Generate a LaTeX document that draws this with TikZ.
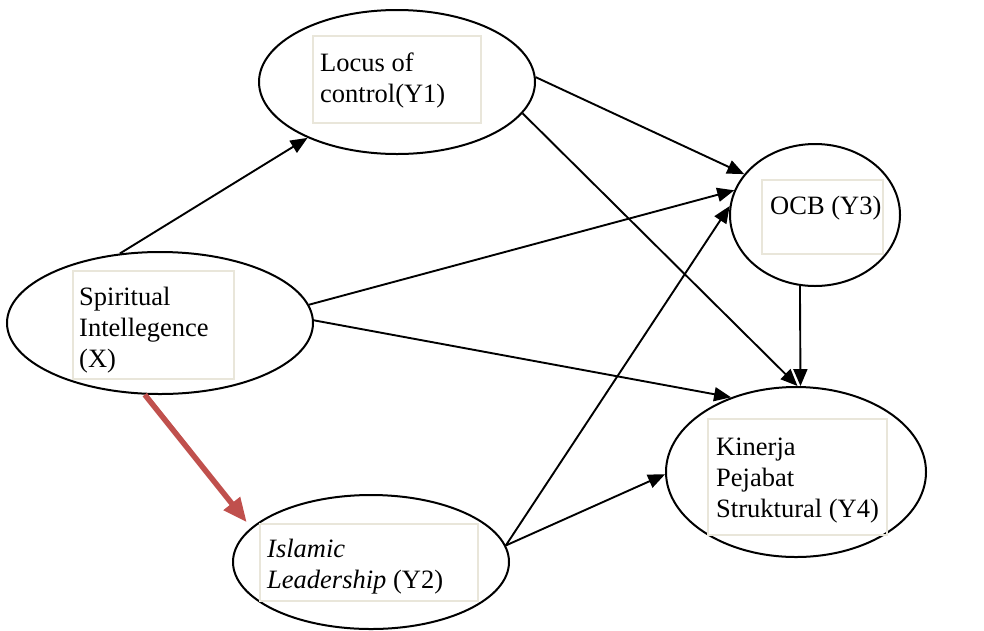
\documentclass[tikz,border=0pt]{standalone}
\usepackage{fontspec}
\setmainfont{Liberation Serif}
\usetikzlibrary{shapes.geometric,arrows.meta}
\definecolor{boxline}{HTML}{E9E6DA}
\definecolor{accentred}{HTML}{C0504D}
\begin{document}
\begin{tikzpicture}[x=1pt,y=-1pt,
  construct/.style={ellipse, draw=black, line width=2pt, inner sep=0pt},
  tbox/.style={draw=boxline, line width=1.5pt, inner sep=0pt, anchor=north west},
  ttext/.style={font=\fontsize{26.5}{31}\selectfont, align=left, inner sep=0pt, anchor=base west},
  link/.style={line width=1.9pt, -{Triangle[length=17pt,width=14pt]}},
  keylink/.style={draw=accentred, line width=5.5pt, -{Triangle[length=24pt,width=20pt]}}
]
\useasboundingbox (0,0) rectangle (984,630);

% constructs
\node[construct, minimum width=276pt, minimum height=144pt] (Y1) at (397,82) {};
\node[construct, minimum width=170pt, minimum height=142pt] (Y3) at (815,215) {};
\node[construct, minimum width=306pt, minimum height=142pt] (X)  at (160,323) {};
\node[construct, minimum width=276pt, minimum height=134pt] (Y2) at (371,562) {};
\node[construct, minimum width=260pt, minimum height=170pt] (Y4) at (796,472) {};

% text frames
\node[tbox, minimum width=168pt, minimum height=87pt]  (Y1box) at (312,35)  {};
\node[tbox, minimum width=121pt, minimum height=74pt]  (Y3box) at (761,179) {};
\node[tbox, minimum width=161pt, minimum height=108pt] (Xbox)  at (72,270)  {};
\node[tbox, minimum width=218pt, minimum height=77pt]  (Y2box) at (259,523) {};
\node[tbox, minimum width=179pt, minimum height=116pt] (Y4box) at (707,418) {};

% labels (anchored at the baseline of their last line)
\node[ttext] (Y1txt) at (320,102) {Locus of\\control(Y1)};
\node[ttext] (Y3txt) at (770,214) {OCB (Y3)};
\node[ttext] (Xtxt)  at (79,367)  {Spiritual\\Intellegence\\(X)};
\node[ttext] (Y2txt) at (267,588) {\textit{Islamic}\\\textit{Leadership} (Y2)};
\node[ttext] (Y4txt) at (716,517) {Kinerja\\Pejabat\\Struktural (Y4)};

% paths
\draw[link] (X.120) -- (Y1.212);
\draw[link] (X.7) -- (Y3.163);
\draw[link] (X.1) -- (Y4.131);
\draw[link] (Y1.2) -- (Y3.150);
\draw[link] (Y1.-14) -- (Y4.89);
\draw[link] (Y3.258) -- (Y4.87);
\draw[link] (Y2.7) -- (Y3.174);
\draw[link] (Y2.7) -- (Y4.181);
\draw[keylink, shorten >=7pt] (X.258) -- (Y2.164);
\end{tikzpicture}
\end{document}
